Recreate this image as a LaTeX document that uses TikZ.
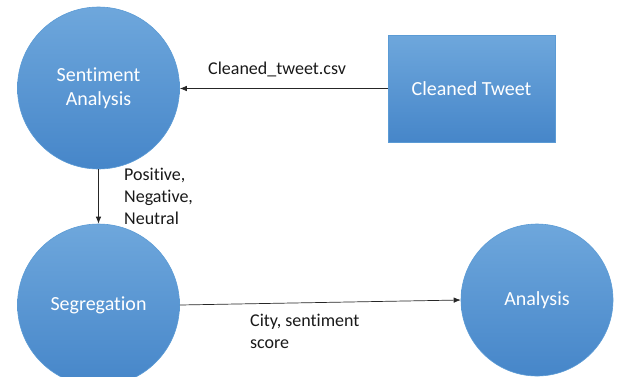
\documentclass[tikz,border=0pt]{standalone}
\usepackage{fontspec}
\setmainfont[RawFeature={-liga;-clig;-calt;-dlig}]{Carlito}
\usetikzlibrary{arrows.meta}
\definecolor{blueTop}{HTML}{6EA7DC}
\definecolor{blueBot}{HTML}{4686C9}
\definecolor{blueEdge}{HTML}{5B9BD5}
\tikzset{
  blob/.style={circle, top color=blueTop, bottom color=blueBot, draw=blueEdge, line width=0.6pt,
    text=white, font=\fontsize{20}{24}\selectfont, align=center, inner sep=0pt},
  boxnode/.style={rectangle, top color=blueTop, bottom color=blueBot, draw=blueEdge, line width=0.6pt,
    text=white, font=\fontsize{20}{24}\selectfont, align=center, inner sep=0pt},
  link/.style={draw=black!85, line width=0.7pt, -{Latex[length=7pt,width=5.5pt]}},
  tag/.style={font=\fontsize{18}{22}\selectfont, align=left, inner sep=0pt, anchor=north west, text=black!90}
}
\begin{document}
\begin{tikzpicture}[x=1pt,y=-1pt]
  \useasboundingbox (0,0) rectangle (617,376);
  \begin{scope}
    \clip (0,0) rectangle (617,376);
    \node[blob, minimum size=162pt] (sa) at (98.5,88) {Sentiment\\Analysis};
    \node[boxnode, minimum width=167pt, minimum height=107pt] (ct) at (471.5,88.5) {Cleaned Tweet};
    \node[blob, minimum size=162pt] (seg) at (98.5,305) {Segregation};
    \node[blob, minimum size=152pt] (an) at (537,300) {Analysis};
  \end{scope}
  \draw[link] (ct.west) -- (sa.east |- ct.west);
  \draw[link] (sa.south) -- (seg.north);
  \draw[link] (seg.east) -- (an.west);
  \node[tag] (l1) at (208,62) {Cleaned\_tweet.csv};
  \node[tag] (l2) at (124,168) {Positive,\\Negative,\\Neutral};
  \node[tag] (l3) at (250,314) {City, sentiment\\score};
\end{tikzpicture}
\end{document}
